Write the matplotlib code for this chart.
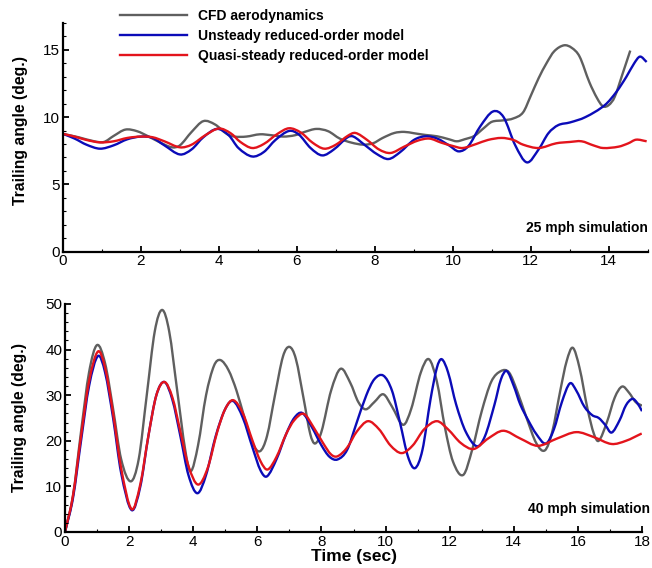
import matplotlib
matplotlib.use("Agg")
import matplotlib.pyplot as plt
from matplotlib.ticker import MultipleLocator
from matplotlib.path import Path
from matplotlib.patches import PathPatch
from matplotlib.lines import Line2D

plt.rcParams['font.family'] = ['Liberation Sans', 'DejaVu Sans']

# ---- 25 mph case ----
t25_cfd = [0, 0.4, 0.8, 1.05, 1.3, 1.6, 1.9, 2.2, 2.5, 2.8, 3.0, 3.3, 3.6, 3.9, 4.2, 4.4,
           4.7, 5.05, 5.35, 5.65, 5.95, 6.2, 6.5, 6.8, 7.1, 7.4, 7.7, 7.95, 8.2, 8.5, 8.75,
           9.0, 9.3, 9.6, 9.9, 10.1, 10.3, 10.55, 10.8, 11.0, 11.3, 11.55, 11.8, 12.0, 12.2,
           12.4, 12.6, 12.85, 13.05, 13.25, 13.5, 13.7, 13.85, 14.0, 14.15, 14.35, 14.55]
y25_cfd = [8.75, 8.5, 8.2, 8.15, 8.6, 9.07, 8.95, 8.55, 8.1, 7.75, 7.9, 8.9, 9.7, 9.45, 8.75, 8.55,
           8.55, 8.72, 8.65, 8.55, 8.65, 8.9, 9.12, 8.95, 8.4, 8.1, 7.95, 8.05, 8.45, 8.82, 8.9,
           8.8, 8.67, 8.57, 8.35, 8.2, 8.35, 8.6, 9.2, 9.65, 9.76, 9.9, 10.35, 11.6, 12.9,
           14.0, 14.9, 15.34, 15.15, 14.5, 12.6, 11.4, 10.8, 10.9, 11.5, 13.2, 14.95]

t25_uns = [0, 0.3, 0.6, 0.95, 1.3, 1.65, 2.0, 2.3, 2.6, 3.0, 3.3, 3.6, 3.95, 4.25, 4.5, 4.85,
           5.15, 5.45, 5.8, 6.05, 6.35, 6.65, 6.95, 7.3, 7.45, 7.75, 8.05, 8.35, 8.65, 9.0,
           9.3, 9.6, 9.9, 10.15, 10.4, 10.7, 11.03, 11.3, 11.6, 11.9, 12.2, 12.45, 12.7, 13.0,
           13.4, 13.9, 14.2, 14.45, 14.65, 14.8, 14.97]
y25_uns = [8.75, 8.4, 7.95, 7.65, 7.9, 8.35, 8.55, 8.45, 7.9, 7.22, 7.6, 8.5, 9.12, 8.65, 7.7, 7.07,
           7.4, 8.3, 8.97, 8.7, 7.7, 7.15, 7.6, 8.5, 8.55, 7.9, 7.25, 6.88, 7.4, 8.3,
           8.57, 8.4, 7.9, 7.45, 7.85, 9.3, 10.42, 10.0, 7.9, 6.63, 7.6, 8.8, 9.4, 9.6,
           10.0, 10.9, 11.9, 13.0, 14.0, 14.5, 14.1]

t25_qs = [0, 0.3, 0.6, 0.95, 1.3, 1.65, 2.0, 2.3, 2.6, 3.0, 3.3, 3.65, 4.0, 4.3, 4.55, 4.85,
          5.15, 5.5, 5.8, 6.1, 6.4, 6.7, 7.0, 7.3, 7.5, 7.8, 8.1, 8.4, 8.75, 9.1, 9.4, 9.7,
          10.0, 10.25, 10.6, 10.9, 11.25, 11.55, 11.8, 12.2, 12.65, 13.0, 13.3, 13.6, 13.85,
          14.25, 14.5, 14.7, 14.97]
y25_qs = [8.75, 8.55, 8.3, 8.12, 8.2, 8.45, 8.55, 8.5, 8.2, 7.75, 7.95, 8.65, 9.15, 8.8, 8.15, 7.7,
          8.0, 8.75, 9.17, 8.85, 8.1, 7.65, 7.95, 8.6, 8.82, 8.3, 7.6, 7.33, 7.8, 8.25, 8.4, 8.1,
          7.85, 7.7, 8.0, 8.3, 8.45, 8.3, 7.95, 7.7, 8.05, 8.15, 8.2, 7.9, 7.7,
          7.8, 8.05, 8.32, 8.2]

# ---- 40 mph case ----
t40_cfd = [0, 0.25, 0.5, 0.75, 1.0, 1.25, 1.5, 1.75, 2.05, 2.3, 2.55, 2.8, 3.03, 3.25, 3.5, 3.75,
           3.92, 4.15, 4.4, 4.65, 4.85, 5.1, 5.35, 5.6, 5.85, 6.08, 6.3, 6.55, 6.8, 7.0, 7.2,
           7.45, 7.65, 7.8, 8.0, 8.3, 8.6, 8.9, 9.15, 9.38, 9.65, 9.93, 10.2, 10.55, 10.8,
           11.1, 11.35, 11.6, 11.85, 12.1, 12.42, 12.7, 13.0, 13.3, 13.6, 13.85, 14.1, 14.4,
           14.7, 14.97, 15.2, 15.45, 15.65, 15.84, 16.05, 16.3, 16.5, 16.65, 16.9, 17.15,
           17.38, 17.6, 17.8, 18.0]
y40_cfd = [0, 8, 22, 35, 41, 37, 27, 16, 11.1, 16, 30, 44, 48.7, 44, 31, 18,
           13.3, 19, 30, 36.5, 37.7, 35.5, 31, 25, 19.5, 17.7, 21, 30, 38.5, 40.6, 38,
           29, 21.5, 19.4, 22, 31, 35.8, 32.7, 28.5, 26.9, 28.5, 30.2, 27.5, 23.5, 27,
           35, 37.9, 33, 23, 15.5, 12.5, 18, 26.5, 33, 35.3, 35, 31, 25,
           19.5, 17.9, 22, 31, 37.5, 40.4, 36, 27, 21.5, 20, 24, 29.5,
           31.9, 30.5, 28.5, 27.7]

t40_uns = [0, 0.25, 0.5, 0.75, 1.03, 1.25, 1.5, 1.75, 2.08, 2.35, 2.6, 2.85, 3.1, 3.35, 3.6,
           3.85, 4.13, 4.4, 4.7, 5.0, 5.25, 5.55, 5.85, 6.1, 6.3, 6.6, 6.9, 7.15, 7.4, 7.7,
           8.0, 8.25, 8.5, 8.8, 9.1, 9.4, 9.65, 9.93, 10.2, 10.45, 10.7, 10.92, 11.15, 11.4,
           11.6, 11.75, 11.95, 12.2, 12.5, 12.85, 13.1, 13.4, 13.6, 13.78, 14.0, 14.2, 14.45,
           14.7, 15.0, 15.25, 15.5, 15.75, 15.95, 16.2, 16.45, 16.65, 16.85, 17.05, 17.3,
           17.5, 17.7, 17.85, 18.0]
y40_uns = [0, 7.5, 20, 32, 38.6, 35, 25, 13, 4.8, 10, 21, 30, 32.9, 29, 21,
           12.5, 8.5, 12.5, 21, 27, 28.7, 25, 18.5, 13.5, 12.2, 16, 21.5, 25, 26.1, 23,
           19, 16.5, 15.9, 18, 24, 30, 33.5, 34.3, 31, 24, 16.5, 14, 18, 29,
           36, 37.9, 35, 28, 22, 18.8, 21, 28, 33.5, 35.3, 32, 28, 24.5,
           21.5, 19.4, 22.5, 28.5, 32.6, 31, 27.5, 25.6, 25, 23.5, 21.8, 24.5,
           27.8, 29.2, 28.3, 26.5]

t40_qs = [0, 0.25, 0.5, 0.75, 1.03, 1.25, 1.5, 1.75, 2.08, 2.35, 2.6, 2.85, 3.1, 3.35, 3.6,
          3.85, 4.15, 4.45, 4.75, 5.0, 5.25, 5.55, 5.85, 6.1, 6.32, 6.6, 6.9, 7.15, 7.45,
          7.75, 8.05, 8.3, 8.5, 8.8, 9.1, 9.45, 9.8, 10.15, 10.5, 10.85, 11.2, 11.6, 11.95,
          12.35, 12.75, 13.2, 13.67, 14.2, 14.75, 15.35, 15.95, 16.5, 17.05, 17.5, 17.99]
y40_qs = [0, 8, 21, 33, 39.6, 36, 26, 14, 5.0, 10.5, 21, 30, 32.9, 29.5, 22,
          14.5, 10.4, 14, 22, 27, 28.9, 26, 20, 15.5, 13.7, 16.5, 21.5, 24.5, 25.9,
          23, 19.5, 17, 16.6, 18.5, 22, 24.3, 22.5, 19, 17.3, 19, 22.5, 24.3, 22.5,
          19.5, 18.2, 20.5, 22.2, 20.5, 18.9, 20.5, 21.9, 20.8, 19.3, 20, 21.6]

labels = ["CFD aerodynamics", "Unsteady reduced-order model", "Quasi-steady reduced-order model"]
colors = ["#5f5f5f", "#0b0bb8", "#e3141c"]
LW = 1.7


def smooth_path(t, y):
    """Cubic Bezier path through every sample (Hermite tangents, no extra samples)."""
    n = len(t)
    slopes = []
    for i in range(n):
        if i == 0:
            m = (y[1] - y[0]) / (t[1] - t[0])
        elif i == n - 1:
            m = (y[-1] - y[-2]) / (t[-1] - t[-2])
        else:
            m = (y[i + 1] - y[i - 1]) / (t[i + 1] - t[i - 1])
        slopes.append(m)
    verts = [(t[0], y[0])]
    codes = [Path.MOVETO]
    for i in range(n - 1):
        h = t[i + 1] - t[i]
        verts += [(t[i] + h / 3, y[i] + slopes[i] * h / 3),
                  (t[i + 1] - h / 3, y[i + 1] - slopes[i + 1] * h / 3),
                  (t[i + 1], y[i + 1])]
        codes += [Path.CURVE4] * 3
    return Path(verts, codes)


def draw_series(ax, t, y, color):
    ax.add_patch(PathPatch(smooth_path(t, y), facecolor="none", edgecolor=color,
                           lw=LW, joinstyle="round", capstyle="butt"))


fig = plt.figure(figsize=(6.52, 5.68), dpi=100)
ax1 = fig.add_axes([0.0966, 0.5572, 0.897, 0.4023])
ax2 = fig.add_axes([0.0997, 0.0634, 0.885, 0.4014])


def style(ax, xmax, ymax, xmaj, ymaj, ymin_step):
    ax.set_xlim(0, xmax)
    ax.set_ylim(0, ymax)
    for s in ("top", "right"):
        ax.spines[s].set_visible(False)
    for s in ("left", "bottom"):
        ax.spines[s].set_linewidth(1.6)
    ax.xaxis.set_major_locator(MultipleLocator(xmaj))
    ax.xaxis.set_minor_locator(MultipleLocator(1))
    ax.yaxis.set_major_locator(MultipleLocator(ymaj))
    ax.yaxis.set_minor_locator(MultipleLocator(ymin_step))
    ax.tick_params(which="major", direction="in", length=4.5, width=1.3,
                   labelsize=11, pad=2)
    ax.tick_params(which="minor", direction="in", length=2.5, width=0.8)
    ax.set_ylabel("Trailing angle (deg.)", fontsize=11.3, fontweight="bold")


for t, y, c in zip([t25_cfd, t25_uns, t25_qs], [y25_cfd, y25_uns, y25_qs], colors):
    draw_series(ax1, t, y, c)
for t, y, c in zip([t40_cfd, t40_uns, t40_qs], [y40_cfd, y40_uns, y40_qs], colors):
    draw_series(ax2, t, y, c)

style(ax1, 15, 17, 2, 5, 1)
style(ax2, 18, 50, 2, 10, 2)
ax1.yaxis.set_label_coords(-0.060, 0.53)
ax2.yaxis.set_label_coords(-0.066, 0.5)
ax2.set_xlabel("Time (sec)", fontsize=12.5, fontweight="bold", labelpad=0.5)

ax1.text(1.0, 0.105, "25 mph simulation", transform=ax1.transAxes, ha="right",
         va="center", fontsize=10, fontweight="bold")
ax2.text(1.014, 0.101, "40 mph simulation", transform=ax2.transAxes, ha="right",
         va="center", fontsize=10, fontweight="bold")

handles = [Line2D([], [], color=c, lw=LW) for c in colors]
fig.legend(handles, labels, loc="upper left", bbox_to_anchor=(0.184, 0.984),
           frameon=False, handlelength=4.8, handletextpad=0.8, labelspacing=0.42,
           borderaxespad=0, borderpad=0, prop={"weight": "bold", "size": 10})

fig.savefig("out.png", dpi=100)
